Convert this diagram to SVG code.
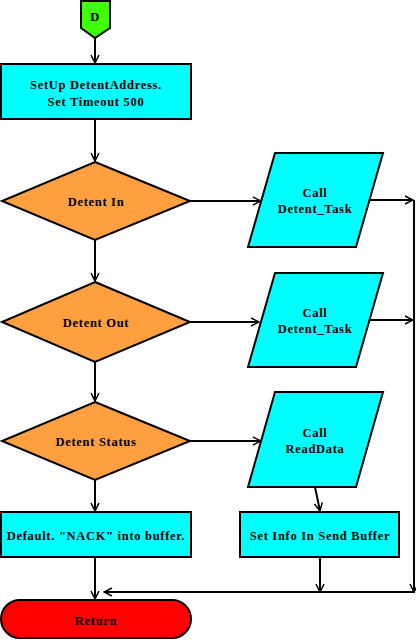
<svg xmlns="http://www.w3.org/2000/svg" width="416" height="640" viewBox="0 0 416 640">
<style>
.n{stroke:#000;stroke-width:2}
.c{fill:#00FFFF}
.o{fill:#FFA040}
.t{font-family:"Liberation Serif","Times New Roman",serif;font-weight:bold;font-size:12.5px;text-anchor:middle;fill:#000;letter-spacing:0.7px}
.l{fill:none;stroke:#000;stroke-width:2}
</style>
<defs>
<marker id="a" viewBox="0 0 10 10" refX="9" refY="5" markerWidth="10" markerHeight="10" markerUnits="userSpaceOnUse" orient="auto">
<polyline points="1,1 9,5 1,9" fill="none" stroke="#000" stroke-width="1.5"/>
</marker>
</defs>
<rect width="416" height="640" fill="#fff"/>
<g id="connectors">
<line class="l" x1="95" y1="38" x2="95" y2="63" marker-end="url(#a)"/>
<line class="l" x1="95" y1="119" x2="95" y2="161" marker-end="url(#a)"/>
<line class="l" x1="95" y1="240" x2="95" y2="281" marker-end="url(#a)"/>
<line class="l" x1="95" y1="362" x2="95" y2="401" marker-end="url(#a)"/>
<line class="l" x1="95" y1="480" x2="95" y2="511" marker-end="url(#a)"/>
<line class="l" x1="95" y1="557" x2="95" y2="599" marker-end="url(#a)"/>
<line class="l" x1="190" y1="201" x2="261" y2="201" marker-end="url(#a)"/>
<line class="l" x1="190" y1="322" x2="259" y2="322" marker-end="url(#a)"/>
<line class="l" x1="190" y1="441" x2="261" y2="441" marker-end="url(#a)"/>
<line class="l" x1="370" y1="200" x2="413" y2="200" marker-end="url(#a)"/>
<line class="l" x1="370" y1="320" x2="413" y2="320" marker-end="url(#a)"/>
<line class="l" x1="414" y1="200" x2="414" y2="592" marker-end="url(#a)"/>
<line class="l" x1="315" y1="487" x2="320" y2="511" marker-end="url(#a)"/>
<line class="l" x1="320" y1="557" x2="320" y2="592" marker-end="url(#a)"/>
<line class="l" x1="415" y1="592" x2="104" y2="592" marker-end="url(#a)"/>
</g>
<g id="start">
<polygon class="n" points="81,1 110,1 110,28 95,38 81,28" fill="#40FF00"/>
<text class="t" x="95" y="21">D</text>
</g>
<g id="setup">
<rect class="n c" x="1" y="64" width="190" height="55"/>
<text class="t" x="96" y="89">SetUp DetentAddress.</text>
<text class="t" x="96" y="106">Set Timeout 500</text>
</g>
<g id="detentIn">
<polygon class="n o" points="95,162 190,201 95,240 2,201"/>
<text class="t" x="96" y="206">Detent In</text>
</g>
<g id="detentOut">
<polygon class="n o" points="95,282 190,322 95,362 2,322"/>
<text class="t" x="96" y="327">Detent Out</text>
</g>
<g id="detentStatus">
<polygon class="n o" points="95,402 190,441 95,480 2,441"/>
<text class="t" x="96" y="446">Detent Status</text>
</g>
<g id="callTask1">
<polygon class="n c" points="275,153 383,153 356,247 248,247"/>
<text class="t" x="315" y="197">Call</text>
<text class="t" x="315" y="213">Detent_Task</text>
</g>
<g id="callTask2">
<polygon class="n c" points="275,273 383,273 356,367 248,367"/>
<text class="t" x="315" y="317">Call</text>
<text class="t" x="315" y="333">Detent_Task</text>
</g>
<g id="callRead">
<polygon class="n c" points="275,392 383,392 356,487 248,487"/>
<text class="t" x="315" y="437">Call</text>
<text class="t" x="315" y="453">ReadData</text>
</g>
<g id="default">
<rect class="n c" x="1" y="512" width="190" height="45"/>
<text class="t" x="96" y="540">Default. "NACK" into buffer.</text>
</g>
<g id="setInfo">
<rect class="n c" x="240" y="512" width="159" height="45"/>
<text class="t" x="320" y="540">Set Info In Send Buffer</text>
</g>
<g id="return">
<rect class="n" x="1" y="600" width="190" height="38" rx="19" fill="#FF0000"/>
<text class="t" x="96" y="625">Return</text>
</g>
</svg>
